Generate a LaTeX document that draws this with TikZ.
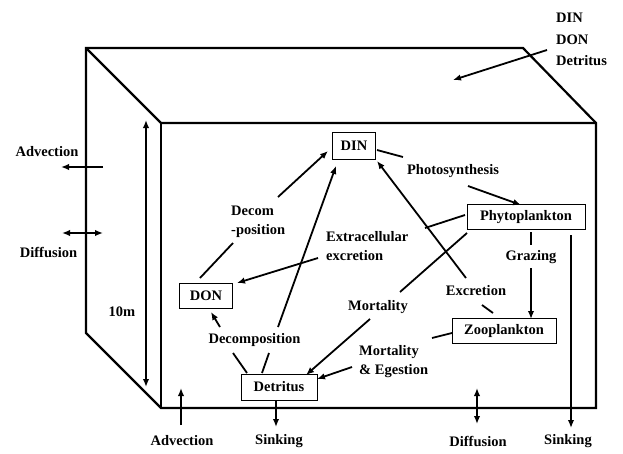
\documentclass[tikz,border=0pt]{standalone}
\usepackage{fontspec}
\setmainfont{Liberation Serif}
\usetikzlibrary{arrows.meta}
\begin{document}
\begin{tikzpicture}[x=1pt,y=-1pt,
 lbl/.style={font=\fontsize{14.5}{19}\selectfont\bfseries, inner sep=0pt},
 box/.style={lbl, draw, line width=0.8pt, minimum height=25pt},
 edge/.style={line width=1.8pt},
 arr/.style={edge, -{Latex[length=8pt,width=6.5pt]}},
 darr/.style={edge, {Latex[length=8pt,width=6.5pt]}-{Latex[length=8pt,width=6.5pt]}},
 frame/.style={line width=2.2pt, line join=miter}]
\useasboundingbox (0,0) rectangle (623,453);
% cube
\coordinate (bl) at (86,48);
\coordinate (br) at (523,48);
\coordinate (fr) at (596,123);
\coordinate (fl) at (161,123);
\coordinate (frb) at (596,408);
\coordinate (flb) at (161,408);
\coordinate (blb) at (86,333);
\draw[frame] (bl) -- (br) -- (fr) -- (frb) -- (flb) -- (blb) -- cycle;
\draw[frame] (bl) -- (fl) -- (fr);
\draw[frame] (fl) -- (flb);
% boxes
\node[box, minimum width=43pt, minimum height=27pt] (din) at (354,146) {DIN};
\node[box, minimum width=118pt] (phy) at (526,217) {Phytoplankton};
\node[box, minimum width=104pt] (zoo) at (504,331) {Zooplankton};
\node[box, minimum width=53pt] (don) at (206,296) {DON};
\node[box, minimum width=76pt, minimum height=26pt] (det) at (279,387) {Detritus};
% labels
\node[lbl] (photo) at (453,171) {Photosynthesis};
\node[lbl, align=left, anchor=west] (decom) at (231,222) {Decom\\-position};
\node[lbl, align=left, anchor=west] (extra) at (326,246) {Extracellular\\excretion};
\node[lbl] (decomp) at (254.5,340) {Decomposition};
\node[lbl] (mort) at (378,307) {Mortality};
\node[lbl] (excr) at (476,291) {Excretion};
\node[lbl] (graz) at (531,257) {Grazing};
\node[lbl, align=left, anchor=west] (morteg) at (359,362) {Mortality\\\& Egestion};
\node[lbl, font=\fontsize{14.5}{21.5}\selectfont\bfseries, align=left, anchor=west] (top) at (556,39.5) {DIN\\DON\\Detritus};
\node[lbl] (advl) at (47,152) {Advection};
\node[lbl] (diffl) at (48.5,252) {Diffusion};
\node[lbl] (tenm) at (122,312) {10m};
\node[lbl] (advb) at (182,441) {Advection};
\node[lbl] (sinkb) at (279,441) {Sinking};
\node[lbl] (diffb) at (478,441) {Diffusion};
\node[lbl] (sinkr) at (568,441) {Sinking};
% free-end coordinates
\coordinate (topS) at (547,50);
\coordinate (topE) at (453,80);
\coordinate (advlS) at (103,167);
\coordinate (advlE) at (61,167);
\coordinate (diffl1) at (62,233);
\coordinate (diffl2) at (103,233);
\coordinate (tm1) at (146,120);
\coordinate (tm2) at (146,387);
\coordinate (advb1) at (181,425);
\coordinate (advb2) at (181,388);
\coordinate (sinkbE) at (276,427);
\coordinate (diffb1) at (477,388);
\coordinate (diffb2) at (477,424);
\coordinate (sinkr1) at (571,235);
\coordinate (sinkr2) at (571,428);
% boundary fluxes
\draw[arr] (topS) -- (topE);
\draw[arr] (advlS) -- (advlE);
\draw[darr] (diffl1) -- (diffl2);
\draw[darr] (tm1) -- (tm2);
\draw[arr] (advb1) -- (advb2);
\draw[arr] (276,400) -- (sinkbE);
\draw[darr] (diffb1) -- (diffb2);
\draw[arr] (sinkr1) -- (sinkr2);
% photosynthesis
\draw[edge] (377,150) -- (403,157);
\draw[arr] (468,186) -- (521,205);
% decomposition DON -> DIN
\draw[edge] (200,278) -- (233,243);
\draw[arr] (278,197) -- (328,151);
% extracellular excretion
\draw[edge] (465,215) -- (425,228);
\draw[arr] (318,258) -- (237,283);
% detritus decomposition
\draw[edge] (247,373) -- (233,353);
\draw[edge] (262,373) -- (269,353);
\draw[arr] (278,327) -- (336,166);
\draw[arr] (220,327) -- (211,312);
% excretion
\draw[edge] (493,313) -- (482,305);
\draw[arr] (466,278) -- (377,161);
% phyto mortality
\draw[edge] (467,233) -- (400,292);
\draw[arr] (370,319) -- (306,375);
% grazing
\draw[edge] (531,232) -- (531,245);
\draw[arr] (531,268) -- (531,319);
% mortality & egestion
\draw[edge] (452,333) -- (432,338);
\draw[arr] (352,367) -- (317,379);
\end{tikzpicture}
\end{document}
